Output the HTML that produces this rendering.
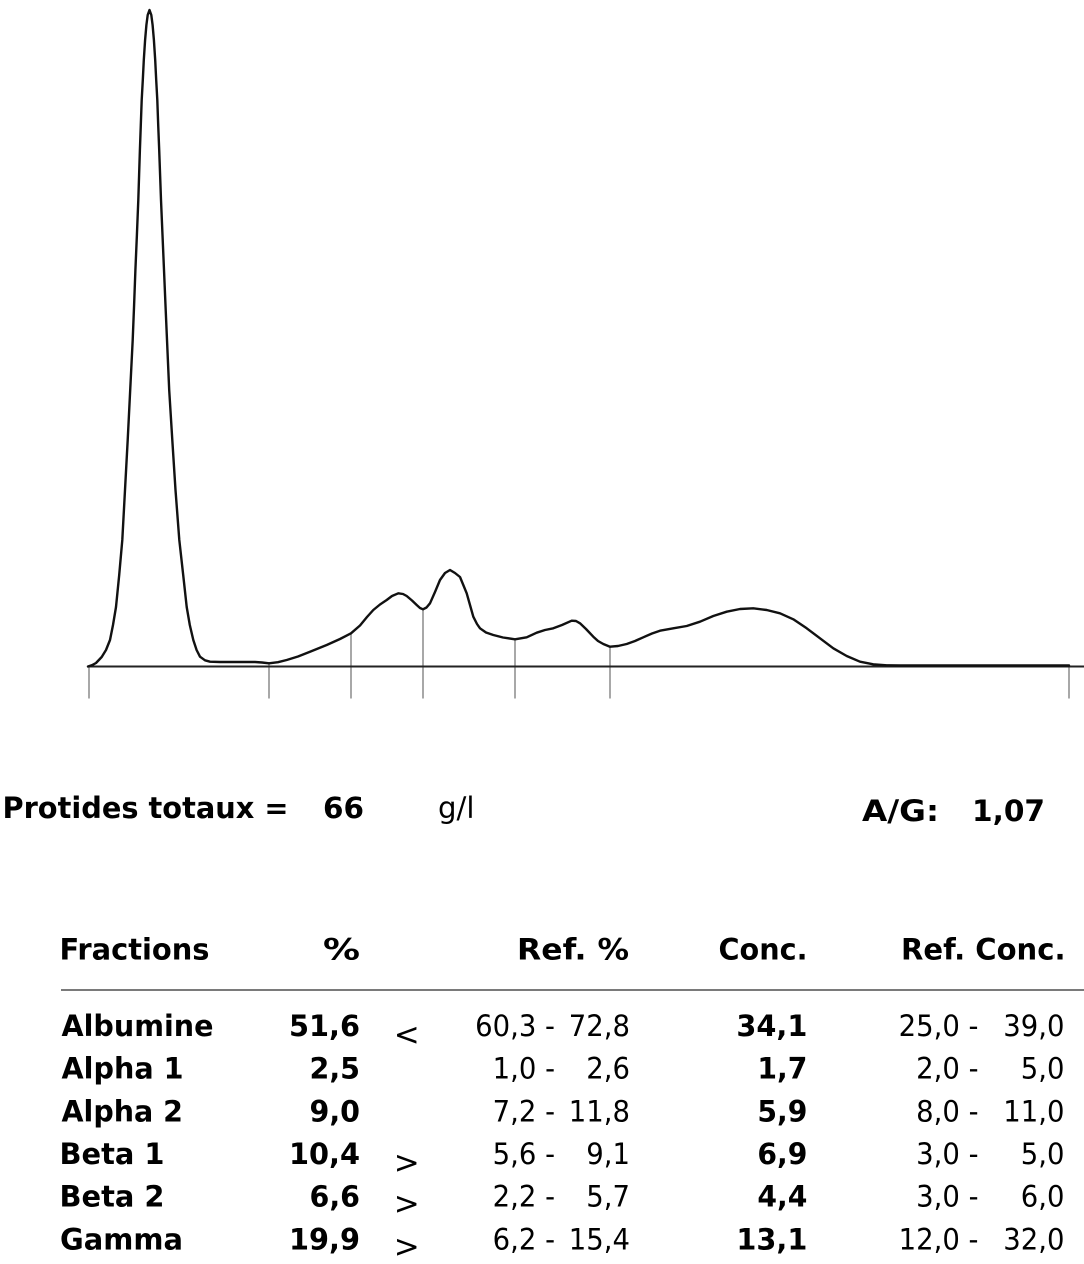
<!DOCTYPE html>
<html>
<head>
<meta charset="utf-8">
<style>
  html, body { margin: 0; padding: 0; background: #ffffff; }
  body { width: 1084px; height: 1264px; overflow: hidden; }
  svg { display: block; }
  .b { font-family: "DejaVu Sans", "Liberation Sans", sans-serif; font-weight: bold; font-size: 29.5px; fill: #000; }
  .r { font-family: "DejaVu Sans", "Liberation Sans", sans-serif; font-weight: normal; font-size: 29px; fill: #000; }
  .s { font-family: "DejaVu Sans", "Liberation Sans", sans-serif; font-weight: normal; font-size: 31px; fill: #000; }
</style>
</head>
<body>
<svg width="1084" height="1264" viewBox="0 0 1084 1264" xmlns="http://www.w3.org/2000/svg">
  <rect x="0" y="0" width="1084" height="1264" fill="#ffffff"/>

  <!-- ticks -->
  <g stroke="#8a8a8a" stroke-width="1.5">
    <line x1="89" y1="666.5" x2="89" y2="698.5"/>
    <line x1="269" y1="663.3" x2="269" y2="698.5"/>
    <line x1="351" y1="633.3" x2="351" y2="698.5"/>
    <line x1="423" y1="609.3" x2="423" y2="698.5"/>
    <line x1="515" y1="639.3" x2="515" y2="698.5"/>
    <line x1="610" y1="646.7" x2="610" y2="698.5"/>
    <line x1="1069" y1="665.5" x2="1069" y2="698.5"/>
  </g>

  <!-- baseline -->
  <line x1="88" y1="666.5" x2="1084" y2="666.5" stroke="#222" stroke-width="2"/>

  <!-- densitometry curve -->
  <polyline fill="none" stroke="#111" stroke-width="2.4" stroke-linejoin="round" stroke-linecap="round"
    points="88,666.5 92,665.2 96,663 101.7,657 106,650 110,640 113,625 116,607 119.2,575 122.3,540 125,490 127.7,440 130.2,390 132.7,340 134.1,305 135.4,270 136.9,235 138.3,200 139.1,175 139.9,150 140.8,125 141.7,100 142.8,80 143.8,60 145.1,40 146.4,25 147.7,15 149.5,10 151.3,15 152.6,25 153.9,40 155.2,60 156.2,80 157.3,100 158.2,125 159.2,150 160.1,175 161,200 162.5,235 164,270 165.4,303 166.7,333 169.2,390 172.3,440 175.5,490 179.3,540 183.2,575 186.7,607 189.8,625 193.3,640 196.6,650 200,656.7 205,660.3 210,661.7 220,662 240,662 255,662 262,662.5 269,663.3 278,662.2 286.7,660 298,656.5 310,651.7 326.7,645 340,639 351,633.3 360,625.5 367,617 373.3,610 380,604.5 386.7,600 392,596 398.3,593.3 403,594 406.7,596 412,600.5 416.7,605 420,608 423,609.3 426.5,607.5 430,603.3 435,592 440,580 445,573 450,570 455,573 460,577 463.3,585 466.7,593.3 470,605 473.3,616.7 477,624 480,628.3 486,632.5 493.3,635 503,637.5 515,639.3 526.7,637.3 536.7,632.7 545,630 553.3,628.3 562,625 571.7,620.7 576,621 580,623.3 586,629 593.3,636.7 598,641 603.3,644 610,646.7 618,646 626.7,644 635,641 643.3,637.3 652,633.5 660,630.7 673.3,628.3 686.7,626 700,621.7 713.3,616 726.7,611.7 740,609 753.3,608.3 766.7,610 780,613.3 793.3,619.3 806.7,628.3 820,638.3 833.3,648.3 846.7,656 860,661.7 873.3,664.3 886.7,665.3 900,665.5 1069,665.5"/>

  <!-- summary line -->
  <text class="b" x="2.5" y="818" textLength="286" lengthAdjust="spacingAndGlyphs">Protides totaux =</text>
  <text class="b" x="323" y="818" textLength="41" lengthAdjust="spacingAndGlyphs">66</text>
  <text class="r" x="438" y="818" textLength="36.5" lengthAdjust="spacingAndGlyphs">g/l</text>
  <text class="b" x="862" y="821" textLength="77" lengthAdjust="spacingAndGlyphs">A/G:</text>
  <text class="b" x="972" y="821" textLength="73" lengthAdjust="spacingAndGlyphs">1,07</text>

  <!-- table header -->
  <text class="b" x="59.5" y="959.3" textLength="150" lengthAdjust="spacingAndGlyphs">Fractions</text>
  <text class="b" x="360" y="959.3" text-anchor="end" textLength="37" lengthAdjust="spacingAndGlyphs">%</text>
  <text class="b" x="517" y="959.3" textLength="112" lengthAdjust="spacingAndGlyphs">Ref. %</text>
  <text class="b" x="718.5" y="959.3" textLength="89" lengthAdjust="spacingAndGlyphs">Conc.</text>
  <text class="b" x="901" y="959.3" textLength="164.5" lengthAdjust="spacingAndGlyphs">Ref. Conc.</text>

  <line x1="61" y1="990" x2="1084" y2="990" stroke="#7a7a7a" stroke-width="2"/>

  <!-- row 1 -->
  <text class="b" x="61.5" y="1036" textLength="152" lengthAdjust="spacingAndGlyphs">Albumine</text>
  <text class="b" x="360" y="1036" text-anchor="end" textLength="71" lengthAdjust="spacingAndGlyphs">51,6</text>
  <text class="s" x="406.7" y="1045" text-anchor="middle">&lt;</text>
  <text class="r" x="555" y="1036" text-anchor="end" textLength="79.9" lengthAdjust="spacingAndGlyphs">60,3 -</text>
  <text class="r" x="630" y="1036" text-anchor="end" textLength="61.2" lengthAdjust="spacingAndGlyphs">72,8</text>
  <text class="b" x="807.4" y="1036" text-anchor="end" textLength="71" lengthAdjust="spacingAndGlyphs">34,1</text>
  <text class="r" x="978.5" y="1036" text-anchor="end" textLength="79.9" lengthAdjust="spacingAndGlyphs">25,0 -</text>
  <text class="r" x="1064.5" y="1036" text-anchor="end" textLength="61.2" lengthAdjust="spacingAndGlyphs">39,0</text>

  <!-- row 2 -->
  <text class="b" x="61.5" y="1078.6" textLength="122" lengthAdjust="spacingAndGlyphs">Alpha 1</text>
  <text class="b" x="360" y="1078.6" text-anchor="end" textLength="50.5" lengthAdjust="spacingAndGlyphs">2,5</text>
  <text class="r" x="555" y="1078.6" text-anchor="end" textLength="62.4" lengthAdjust="spacingAndGlyphs">1,0 -</text>
  <text class="r" x="630" y="1078.6" text-anchor="end" textLength="43.7" lengthAdjust="spacingAndGlyphs">2,6</text>
  <text class="b" x="807.4" y="1078.6" text-anchor="end" textLength="50" lengthAdjust="spacingAndGlyphs">1,7</text>
  <text class="r" x="978.5" y="1078.6" text-anchor="end" textLength="62.4" lengthAdjust="spacingAndGlyphs">2,0 -</text>
  <text class="r" x="1064.5" y="1078.6" text-anchor="end" textLength="43.7" lengthAdjust="spacingAndGlyphs">5,0</text>

  <!-- row 3 -->
  <text class="b" x="61.5" y="1121.3" textLength="121.5" lengthAdjust="spacingAndGlyphs">Alpha 2</text>
  <text class="b" x="360" y="1121.3" text-anchor="end" textLength="50.5" lengthAdjust="spacingAndGlyphs">9,0</text>
  <text class="r" x="555" y="1121.3" text-anchor="end" textLength="62.4" lengthAdjust="spacingAndGlyphs">7,2 -</text>
  <text class="r" x="630" y="1121.3" text-anchor="end" textLength="61.2" lengthAdjust="spacingAndGlyphs">11,8</text>
  <text class="b" x="807.4" y="1121.3" text-anchor="end" textLength="50" lengthAdjust="spacingAndGlyphs">5,9</text>
  <text class="r" x="978.5" y="1121.3" text-anchor="end" textLength="62.4" lengthAdjust="spacingAndGlyphs">8,0 -</text>
  <text class="r" x="1064.5" y="1121.3" text-anchor="end" textLength="61.2" lengthAdjust="spacingAndGlyphs">11,0</text>

  <!-- row 4 -->
  <text class="b" x="59.5" y="1164" textLength="105" lengthAdjust="spacingAndGlyphs">Beta 1</text>
  <text class="b" x="360" y="1164" text-anchor="end" textLength="71" lengthAdjust="spacingAndGlyphs">10,4</text>
  <text class="s" x="406.7" y="1173" text-anchor="middle">&gt;</text>
  <text class="r" x="555" y="1164" text-anchor="end" textLength="62.4" lengthAdjust="spacingAndGlyphs">5,6 -</text>
  <text class="r" x="630" y="1164" text-anchor="end" textLength="43.7" lengthAdjust="spacingAndGlyphs">9,1</text>
  <text class="b" x="807.4" y="1164" text-anchor="end" textLength="50" lengthAdjust="spacingAndGlyphs">6,9</text>
  <text class="r" x="978.5" y="1164" text-anchor="end" textLength="62.4" lengthAdjust="spacingAndGlyphs">3,0 -</text>
  <text class="r" x="1064.5" y="1164" text-anchor="end" textLength="43.7" lengthAdjust="spacingAndGlyphs">5,0</text>

  <!-- row 5 -->
  <text class="b" x="59.5" y="1206.6" textLength="105" lengthAdjust="spacingAndGlyphs">Beta 2</text>
  <text class="b" x="360" y="1206.6" text-anchor="end" textLength="50.5" lengthAdjust="spacingAndGlyphs">6,6</text>
  <text class="s" x="406.7" y="1214" text-anchor="middle">&gt;</text>
  <text class="r" x="555" y="1206.6" text-anchor="end" textLength="62.4" lengthAdjust="spacingAndGlyphs">2,2 -</text>
  <text class="r" x="630" y="1206.6" text-anchor="end" textLength="43.7" lengthAdjust="spacingAndGlyphs">5,7</text>
  <text class="b" x="807.4" y="1206.6" text-anchor="end" textLength="50" lengthAdjust="spacingAndGlyphs">4,4</text>
  <text class="r" x="978.5" y="1206.6" text-anchor="end" textLength="62.4" lengthAdjust="spacingAndGlyphs">3,0 -</text>
  <text class="r" x="1064.5" y="1206.6" text-anchor="end" textLength="43.7" lengthAdjust="spacingAndGlyphs">6,0</text>

  <!-- row 6 -->
  <text class="b" x="60" y="1249.3" textLength="123" lengthAdjust="spacingAndGlyphs">Gamma</text>
  <text class="b" x="360" y="1249.3" text-anchor="end" textLength="71" lengthAdjust="spacingAndGlyphs">19,9</text>
  <text class="s" x="406.7" y="1257" text-anchor="middle">&gt;</text>
  <text class="r" x="555" y="1249.3" text-anchor="end" textLength="62.4" lengthAdjust="spacingAndGlyphs">6,2 -</text>
  <text class="r" x="630" y="1249.3" text-anchor="end" textLength="61.2" lengthAdjust="spacingAndGlyphs">15,4</text>
  <text class="b" x="807.4" y="1249.3" text-anchor="end" textLength="71" lengthAdjust="spacingAndGlyphs">13,1</text>
  <text class="r" x="978.5" y="1249.3" text-anchor="end" textLength="79.9" lengthAdjust="spacingAndGlyphs">12,0 -</text>
  <text class="r" x="1064.5" y="1249.3" text-anchor="end" textLength="61.2" lengthAdjust="spacingAndGlyphs">32,0</text>
</svg>
</body>
</html>
